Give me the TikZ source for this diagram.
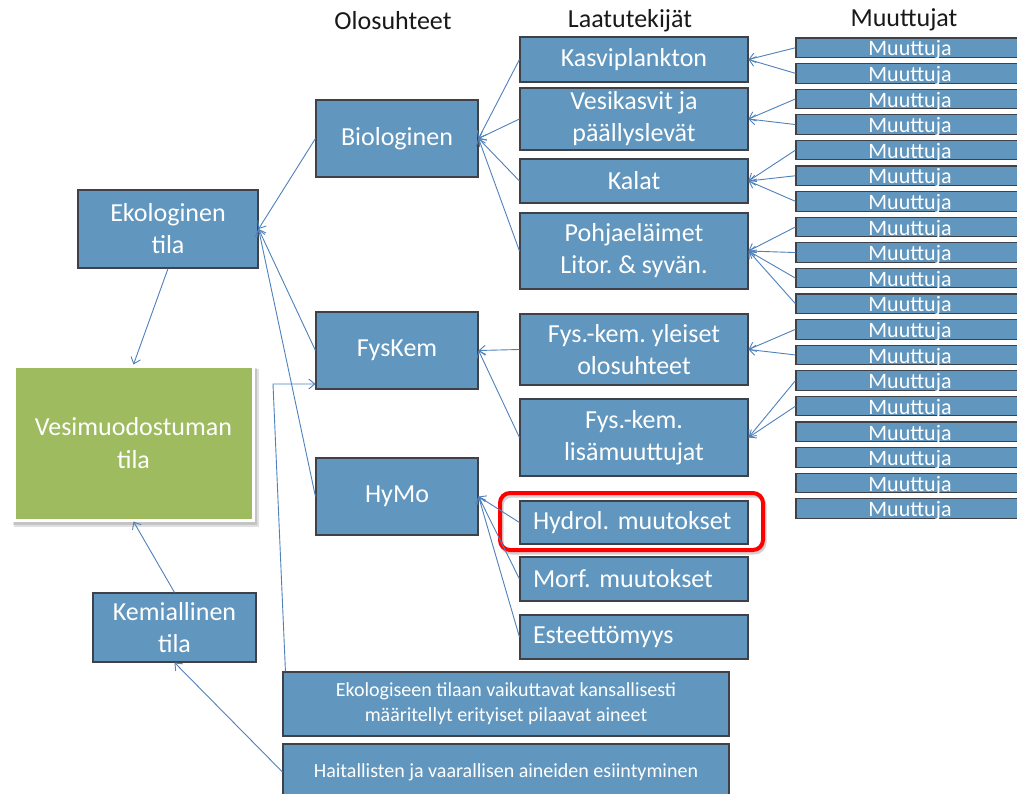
\documentclass[tikz,border=0pt]{standalone}
\usepackage{fontspec}
\setmainfont{Carlito}
\usetikzlibrary{arrows.meta}
\definecolor{boxblue}{RGB}{97,150,190}
\definecolor{boxedge}{RGB}{62,66,72}
\definecolor{linkblue}{RGB}{79,129,189}
\definecolor{vgreen}{RGB}{158,187,96}
\definecolor{hdr}{RGB}{25,25,25}
\frenchspacing
\begin{document}
\begin{tikzpicture}[x=1pt,y=-1pt,
  box/.style={draw=boxedge, line width=1.1pt, fill=boxblue, text=white, inner sep=0pt, align=center, font=\fontsize{26}{32}\selectfont},
  lbox/.style={box, text width=202pt, align=left},
  mbox/.style={draw=boxedge, line width=1.1pt, fill=boxblue, text=white, inner sep=0pt, minimum width=228pt, minimum height=19.5pt, text height=16.5pt, text depth=0pt, font=\fontsize{22}{22}\selectfont},
  sbox/.style={box, font=\fontsize{20}{25}\selectfont},
  link/.style={draw=linkblue, line width=0.9pt, -{Straight Barb[length=6pt,width=10pt]}},
  hdrtext/.style={text=hdr, anchor=base, inner sep=0pt, font=\fontsize{26}{30}\selectfont}]
\clip (0,0) rectangle (1017,794);
\fill[white] (0,0) rectangle (1017,794);

% headers
\node[hdrtext] (h1) at (393,30) {Olosuhteet};
\node[hdrtext] (h2) at (630,28) {Laatutekijät};
\node[hdrtext] (h3) at (904,27) {Muuttujat};

% left column
\node[box, minimum width=180pt, minimum height=78pt] (ekol) at (168,229) {Ekologinen\\tila};
\fill[black, opacity=0.12] (14,369) rectangle (259,527);
\fill[black, opacity=0.12] (13,368) rectangle (257,525);
\node[fill=vgreen, draw=white, line width=3pt, text=white, inner sep=0pt, align=center, minimum width=239pt, minimum height=154pt, font=\fontsize{26}{33}\selectfont] (vesi) at (133.5,443) {Vesimuodostuman\\tila};
\node[box, minimum width=163pt, minimum height=69pt] (kem) at (174.5,627.5) {Kemiallinen\\tila};

% olosuhteet
\node[box, minimum width=162pt, minimum height=77pt] (bio) at (397,138.5) {Biologinen};
\node[box, minimum width=162pt, minimum height=77pt] (fys) at (397,350.5) {FysKem};
\node[box, minimum width=162pt, minimum height=77pt] (hymo) at (397,496.5) {HyMo};

% bottom boxes
\node[sbox, minimum width=446pt, minimum height=64pt] (eksp) at (506,704) {Ekologiseen tilaan vaikuttavat kansallisesti\\määritellyt erityiset pilaavat aineet};
\node[sbox, minimum width=446pt, minimum height=56pt] (hait) at (506,772) {Haitallisten ja vaarallisen aineiden esiintyminen};

% laatutekijat
\node[box, minimum width=228pt, minimum height=45pt] (kasvi) at (634,59.5) {Kasviplankton};
\node[box, minimum width=228pt, minimum height=62pt] (vesik) at (634,119) {Vesikasvit ja\\päällyslevät};
\node[box, minimum width=228pt, minimum height=44pt] (kalat) at (634,181) {Kalat};
\node[box, minimum width=228pt, minimum height=76pt] (pohja) at (634,251) {Pohjaeläimet\\Litor. \& syvän.};
\node[box, minimum width=228pt, minimum height=71pt] (yleis) at (634,349.5) {Fys.-kem. yleiset\\olosuhteet};
\node[box, minimum width=228pt, minimum height=77pt] (lisam) at (634,437.5) {Fys.-kem.\\lisämuuttujat};
\node[lbox, minimum width=228pt, minimum height=43pt] (hydrol) at (634,522.5) {\mbox{Hydrol. muutokset}};
\node[lbox, minimum width=228pt, minimum height=44pt] (morf) at (634,579) {\mbox{Morf. muutokset}};
\node[lbox, minimum width=228pt, minimum height=44pt] (este) at (634,637) {\mbox{Esteettömyys}};

% red highlight
\draw[black, opacity=0.18, line width=4pt, rounded corners=10pt] (501.5,495.5) rectangle (764.5,552.5);
\draw[red, line width=4pt, rounded corners=10pt] (500,493) rectangle (763,550);

% muuttujat
\foreach \i in {1,...,19}
  \node[mbox] (m\i) at (910,{47.75+25.6*(\i-1)}) {Muuttuja};

% links muuttuja -> laatutekija
\foreach \i in {1,2} \draw[link] (m\i.west) -- (kasvi.east);
\foreach \i in {3,4} \draw[link] (m\i.west) -- (vesik.east);
\foreach \i in {5,6,7} \draw[link] (m\i.west) -- (kalat.east);
\foreach \i in {8,9,10,11} \draw[link] (m\i.west) -- (pohja.east);
\foreach \i in {12,13} \draw[link] (m\i.west) -- (yleis.east);
\foreach \i in {14,15} \draw[link] (m\i.west) -- (lisam.east);

% links laatutekija -> olosuhde
\foreach \n in {kasvi,vesik,kalat,pohja} \draw[link] (\n.west) -- (bio.east);
\foreach \n in {yleis,lisam} \draw[link] (\n.west) -- (fys.east);
\foreach \n in {hydrol,morf,este} \draw[link] (\n.west) -- (hymo.east);

% links olosuhde -> ekologinen
\foreach \n in {bio,fys,hymo} \draw[link] (\n.west) -- (ekol.east);
\draw[link] (ekol.south) -- (vesi.north);
\draw[link] (kem.north) -- (vesi.south);
\draw[link] (hait.west) -- (kem.south);
\coordinate (bendE) at (273,384);
\draw[link] ([xshift=3pt]eksp.north west) -- (bendE) -- (bendE -| fys.west);
\end{tikzpicture}
\end{document}
